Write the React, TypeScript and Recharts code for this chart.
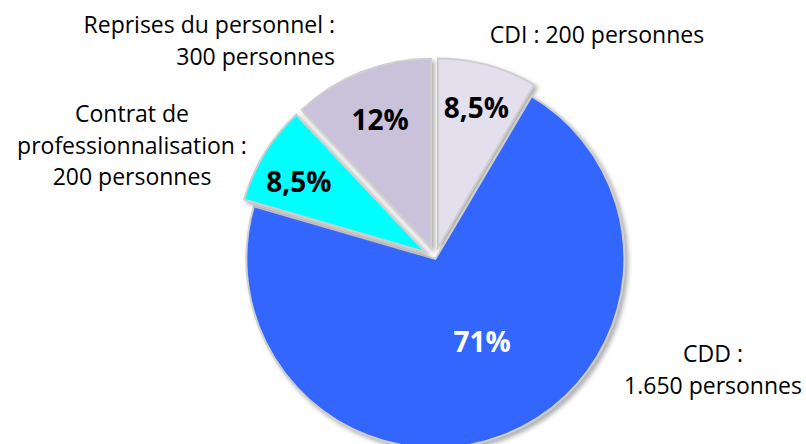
import React from 'react';
import { PieChart, Pie, Cell, Sector } from 'recharts';

const categories = ['CDI', 'CDD', 'Contrat de professionnalisation', 'Reprises du personnel'];
const persons = ['200', '1.650', '200', '300'];
const shares = [8.5, 71, 8.5, 12];
const percentLabels = ['8,5%', '71%', '8,5%', '12%'];
const outerLines = [
  ['CDI : 200 personnes'],
  ['CDD :', '1.650 personnes'],
  ['Contrat de', 'professionnalisation :', '200 personnes'],
  ['Reprises du personnel :', '300 personnes'],
];

const colors = ['#E4DFEC', '#3366FF', '#00FFFF', '#CAC1DA'];
const percentColors = ['#000000', '#FFFFFF', '#000000', '#000000'];
const explode = [11, 1, 11, 11];
const labelRadiusFrac = [0.77, 0.5, 0.77, 0.73];
const labelAngleOffset = [0, 8, 2, 0];
const outerLayout = [
  { x: 597, y: 43, anchor: 'middle' },
  { x: 713, y: 362, anchor: 'middle' },
  { x: 132, y: 122, anchor: 'middle' },
  { x: 335, y: 33, anchor: 'end' },
];
const FONT = '"Open Sans", sans-serif';
const RAD = Math.PI / 180;

const data = categories.map((name, i) => ({ name, value: shares[i], persons: persons[i], idx: i }));

function shift(i: number, midAngle: number) {
  const d = explode[i];
  return { dx: d * Math.cos(-midAngle * RAD), dy: d * Math.sin(-midAngle * RAD) };
}

const SliceShape = (props: any) => {
  const i = props.payload?.idx ?? props.idx ?? 0;
  const { dx, dy } = shift(i, props.midAngle);
  return (
    <Sector
      cx={props.cx + dx}
      cy={props.cy + dy}
      innerRadius={props.innerRadius}
      outerRadius={props.outerRadius}
      startAngle={props.startAngle}
      endAngle={props.endAngle}
      fill={props.fill}
      stroke="#cfcfcf"
      strokeWidth={2}
      filter="url(#shadow)"
    />
  );
};

const renderLabel = (props: any) => {
  const i = props.payload?.idx ?? props.index ?? 0;
  const { dx, dy } = shift(i, props.midAngle);
  const r = props.outerRadius * labelRadiusFrac[i];
  const a = props.midAngle + labelAngleOffset[i];
  const x = props.cx + dx + r * Math.cos(-a * RAD);
  const y = props.cy + dy + r * Math.sin(-a * RAD);
  const lay = outerLayout[i];
  return (
    <g key={'lab' + i}>
      <text x={x} y={y} textAnchor="middle" dominantBaseline="central" fill={percentColors[i]}
        fontFamily={FONT} fontWeight="bold" fontSize={28}>
        {percentLabels[i]}
      </text>
      {outerLines[i].map((line, k) => (
        <text key={k} x={lay.x} y={lay.y + k * 31.5} textAnchor={lay.anchor as any} fill="#000"
          fontFamily={FONT} fontSize={23}>
          {line}
        </text>
      ))}
    </g>
  );
};

export default function App() {
  return (
    <div style={{ position: 'absolute', left: 0, top: 0, background: '#fff' }}>
      <PieChart width={806} height={444}>
        <defs>
          <filter id="shadow" x="-20%" y="-20%" width="140%" height="140%">
            <feDropShadow dx="3" dy="3" stdDeviation="2" floodColor="#7f7f7f" floodOpacity="0.6" />
          </filter>
        </defs>
        <Pie
          data={data}
          dataKey="value"
          nameKey="name"
          cx={430}
          cy={253}
          outerRadius={189}
          startAngle={90}
          endAngle={-270}
          stroke="none"
          isAnimationActive={false}
          shape={SliceShape}
          label={renderLabel}
          labelLine={false}
        >
          {data.map((d, i) => (
            <Cell key={i} fill={colors[i]} />
          ))}
        </Pie>
      </PieChart>
    </div>
  );
}
